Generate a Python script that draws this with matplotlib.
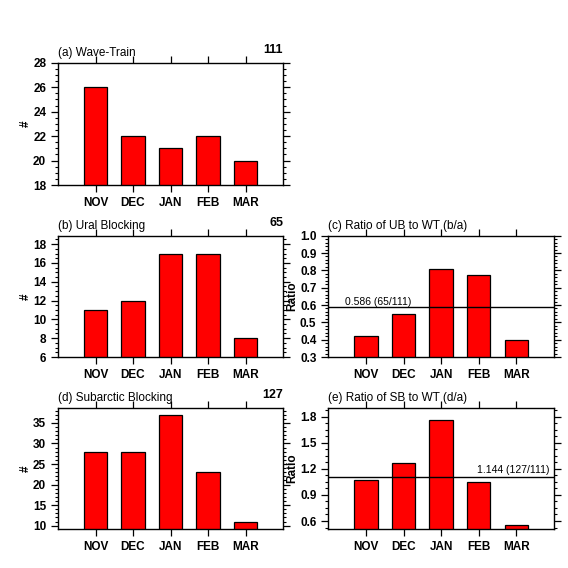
import matplotlib
matplotlib.use("Agg")
import matplotlib.pyplot as plt
from matplotlib.ticker import AutoMinorLocator, MultipleLocator, FormatStrFormatter
import numpy as np

months = ["NOV", "DEC", "JAN", "FEB", "MAR"]
wave_train = [26, 22, 21, 22, 20]
ural_blocking = [11, 12, 17, 17, 8]
subarctic_blocking = [28, 28, 37, 23, 11]
ratio_ub_wt = [11/26, 12/22, 17/21, 17/22, 8/20]
ratio_sb_wt = [28/26, 28/22, 37/21, 23/22, 11/20]
ratio_c_line = 0.586
ratio_e_line = 1.112
ratio_c_label = "0.586 (65/111)"
ratio_e_label = "1.144 (127/111)"
totals = ["111", "65", "127"]

plt.rcParams['font.family'] = ['Liberation Sans', 'DejaVu Sans']

fig = plt.figure(figsize=(5.68, 5.68), dpi=100)
W = 568.0

def make_ax(left, top, right, bottom):
    return fig.add_axes([left / W, 1 - bottom / W, (right - left) / W, (bottom - top) / W])

def style(ax, ylim, major, nminor, ylabel, fmt=None):
    x = np.arange(len(months))
    ax.set_xlim(-1, 5)
    ax.set_ylim(*ylim)
    ax.set_xticks(x)
    ax.set_xticklabels(months, fontsize=8, fontweight='bold')
    ax.yaxis.set_major_locator(MultipleLocator(major))
    ax.yaxis.set_minor_locator(AutoMinorLocator(nminor))
    if fmt:
        ax.yaxis.set_major_formatter(FormatStrFormatter(fmt))
    ax.tick_params(axis='both', which='major', direction='out', length=5, width=0.9,
                   top=True, right=True, labelsize=8.5)
    ax.tick_params(axis='y', which='minor', direction='out', length=2.5, width=0.8,
                   left=True, right=True)
    ax.tick_params(axis='x', which='minor', bottom=False, top=False)
    for lab in ax.get_yticklabels() + ax.get_xticklabels():
        lab.set_fontweight('bold')
    for s in ax.spines.values():
        s.set_linewidth(1.0)
    ax.set_ylabel(ylabel, fontsize=8.5, fontweight='bold', labelpad=1)

def bars(ax, vals):
    ax.bar(np.arange(len(vals)), vals, width=0.62, color='#ff0000', edgecolor='black',
           linewidth=0.9, zorder=2)

def titles(ax, left, right=None):
    ax.set_title(left, loc='left', fontsize=8.5, pad=5)
    if right:
        ax.annotate(right, xy=(1.0, 1.0), xycoords='axes fraction', xytext=(0, 5),
                    textcoords='offset points', ha='right', va='bottom',
                    fontsize=9, fontweight='bold')

# (a)
ax = make_ax(58, 62.7, 283, 185)
bars(ax, wave_train)
style(ax, (18, 28), 2, 4, "#")
titles(ax, "(a) Wave-Train", totals[0])

# (b)
ax = make_ax(58, 235.7, 283, 357)
bars(ax, ural_blocking)
style(ax, (6, 18.9), 2, 4, "#")
titles(ax, "(b) Ural Blocking", totals[1])

# (c)
ax = make_ax(328.3, 235.7, 554, 357)
bars(ax, ratio_ub_wt)
style(ax, (0.3, 1.0), 0.1, 5, "Ratio", '%.1f')
ax.axhline(ratio_c_line, color='black', linewidth=1.0, zorder=3)
ax.text(-0.55, ratio_c_line + 0.005, ratio_c_label, ha='left', va='bottom', fontsize=7.5)
titles(ax, "(c) Ratio of UB to WT (b/a)")

# (d)
ax = make_ax(58, 407.7, 283, 529)
bars(ax, subarctic_blocking)
style(ax, (9.2, 38.7), 5, 5, "#")
titles(ax, "(d) Subarctic Blocking", totals[2])

# (e)
ax = make_ax(328.3, 407.7, 554, 529)
bars(ax, ratio_sb_wt)
style(ax, (0.508, 1.904), 0.3, 4, "Ratio", '%.1f')
ax.axhline(ratio_e_line, color='black', linewidth=1.0, zorder=3)
ax.text(2.95, ratio_e_line + 0.015, ratio_e_label, ha='left', va='bottom', fontsize=7.5)
titles(ax, "(e) Ratio of SB to WT (d/a)")

fig.savefig("out.png", dpi=100)
